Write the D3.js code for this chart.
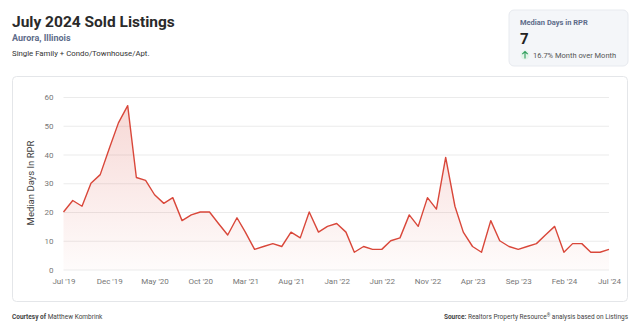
<!DOCTYPE html>
<html>
<head>
<meta charset="utf-8">
<script src="https://cdn.jsdelivr.net/npm/d3@7"></script>
<style>
  html, body { margin: 0; padding: 0; background: #fff; }
  svg { display: block; font-family: Roboto, "Noto Sans", sans-serif; }
</style>
</head>
<body>
<svg id="chart" width="640" height="336"></svg>
<script>
// Monthly median days in RPR, Jul 2019 – Jul 2024
const months = d3.range(61).map(i => new Date(2019, 6 + i, 1));
const medianDays = [
  20, 24, 22, 30, 33, 42, 51, 57, 32, 31, 26, 23, 25,
  17, 19, 20, 20, 16, 12, 18, 13, 7, 8, 9, 8,
  13, 11, 20, 13, 15, 16, 13, 6, 8, 7, 7, 10,
  11, 19, 15, 25, 21, 39, 22, 13, 8, 6, 17, 10,
  8, 7, 8, 9, 12, 15, 6, 9, 9, 6, 6, 7
];
const yTicks = [0, 10, 20, 30, 40, 50, 60];
const xTickIndex = [0, 5, 10, 15, 20, 25, 30, 35, 40, 45, 50, 55, 60];
const xTickLabels = ["Jul '19", "Dec '19", "May '20", "Oct '20", "Mar '21", "Aug '21",
  "Jan '22", "Jun '22", "Nov '22", "Apr '23", "Sep '23", "Feb '24", "Jul '24"];

const svg = d3.select("#chart");
const lineColor = "#d9473a";

// Header
svg.append("text").attr("x", 12).attr("y", 27)
  .attr("font-size", 15.5).attr("font-weight", 700).attr("fill", "#2a2a2a")
  .text("July 2024 Sold Listings");
svg.append("text").attr("x", 12).attr("y", 41)
  .attr("font-size", 9).attr("font-weight", 700).attr("fill", "#5d6c8a")
  .text("Aurora, Illinois");
svg.append("text").attr("x", 12).attr("y", 56)
  .attr("font-size", 7.8).attr("fill", "#333")
  .text("Single Family + Condo/Townhouse/Apt.");

// KPI card
const card = svg.append("g");
card.append("rect").attr("x", 509).attr("y", 10).attr("width", 119).attr("height", 56)
  .attr("rx", 5).attr("fill", "#f4f6f9").attr("stroke", "#e7eaef");
card.append("text").attr("x", 520).attr("y", 25)
  .attr("font-size", 7.5).attr("font-weight", 700).attr("fill", "#5d6c8a")
  .text("Median Days in RPR");
card.append("text").attr("x", 520).attr("y", 44)
  .attr("font-size", 15).attr("font-weight", 700).attr("fill", "#222")
  .text(medianDays[medianDays.length - 1]);
card.append("circle").attr("cx", 525).attr("cy", 55).attr("r", 4.5).attr("fill", "#e2f4e8");
card.append("path").attr("d", "M525,58.5 V51.5 M522.3,54.2 L525,51.5 L527.7,54.2")
  .attr("stroke", "#2f9e5c").attr("stroke-width", 1.1).attr("fill", "none");
card.append("text").attr("x", 533).attr("y", 58)
  .attr("font-size", 7.5).attr("fill", "#555")
  .text("16.7% Month over Month");

// Chart panel
svg.append("rect").attr("x", 12.5).attr("y", 76.5).attr("width", 615).attr("height", 225)
  .attr("rx", 4).attr("fill", "#fff").attr("stroke", "#e4e6e9");

const x = d3.scaleTime().domain([months[0], months[60]]).range([63.5, 609]);
const y = d3.scaleLinear().domain([0, 60]).range([269.5, 97]);

// Gridlines and y labels
const yAxis = d3.axisLeft(y).tickValues(yTicks).tickSize(-(609 - 63.5)).tickPadding(10);
const gy = svg.append("g").attr("transform", "translate(63.5,0)").call(yAxis);
gy.select(".domain").remove();
gy.selectAll(".tick line").attr("stroke", "#ebebeb");
gy.selectAll(".tick text").attr("font-size", 8).attr("fill", "#777")
  .attr("font-family", "Roboto, sans-serif");

// x labels
const xAxis = d3.axisBottom(x)
  .tickValues(xTickIndex.map(i => months[i]))
  .tickFormat((d, i) => xTickLabels[i]).tickSize(0).tickPadding(9);
const gx = svg.append("g").attr("transform", "translate(0,269.5)").call(xAxis);
gx.select(".domain").remove();
gx.selectAll(".tick text").attr("font-size", 8).attr("fill", "#777")
  .attr("font-family", "Roboto, sans-serif");

// y axis title
svg.append("text")
  .attr("transform", "translate(33.5,183) rotate(-90)")
  .attr("text-anchor", "middle").attr("font-size", 9.5).attr("fill", "#444")
  .text("Median Days In RPR");

// Area gradient
const defs = svg.append("defs");
const grad = defs.append("linearGradient").attr("id", "fillGrad")
  .attr("gradientUnits", "userSpaceOnUse")
  .attr("x1", 0).attr("y1", y(60)).attr("x2", 0).attr("y2", y(0));
grad.append("stop").attr("offset", "0%").attr("stop-color", lineColor).attr("stop-opacity", 0.22);
grad.append("stop").attr("offset", "100%").attr("stop-color", lineColor).attr("stop-opacity", 0.02);

const series = months.map((m, i) => ({ m, v: medianDays[i] }));
svg.append("path").datum(series)
  .attr("fill", "url(#fillGrad)")
  .attr("d", d3.area().x(d => x(d.m)).y0(y(0)).y1(d => y(d.v)));
svg.append("path").datum(series)
  .attr("fill", "none").attr("stroke", lineColor).attr("stroke-width", 1.4)
  .attr("stroke-linejoin", "round")
  .attr("d", d3.line().x(d => x(d.m)).y(d => y(d.v)));

// Footer
const foot = svg.append("text").attr("x", 12).attr("y", 319)
  .attr("font-size", 6.5).attr("fill", "#444");
foot.append("tspan").attr("font-weight", 700).text("Courtesy of ");
foot.append("tspan").text("Matthew Kombrink");

const src = svg.append("text").attr("x", 628).attr("y", 319)
  .attr("text-anchor", "end").attr("font-size", 6.5).attr("fill", "#444");
src.append("tspan").attr("font-weight", 700).text("Source: ");
src.append("tspan").text("Realtors Property Resource");
src.append("tspan").attr("font-size", 4.5).attr("dy", -2.5).text("®");
src.append("tspan").attr("dy", 2.5).text(" analysis based on Listings");
</script>
</body>
</html>
